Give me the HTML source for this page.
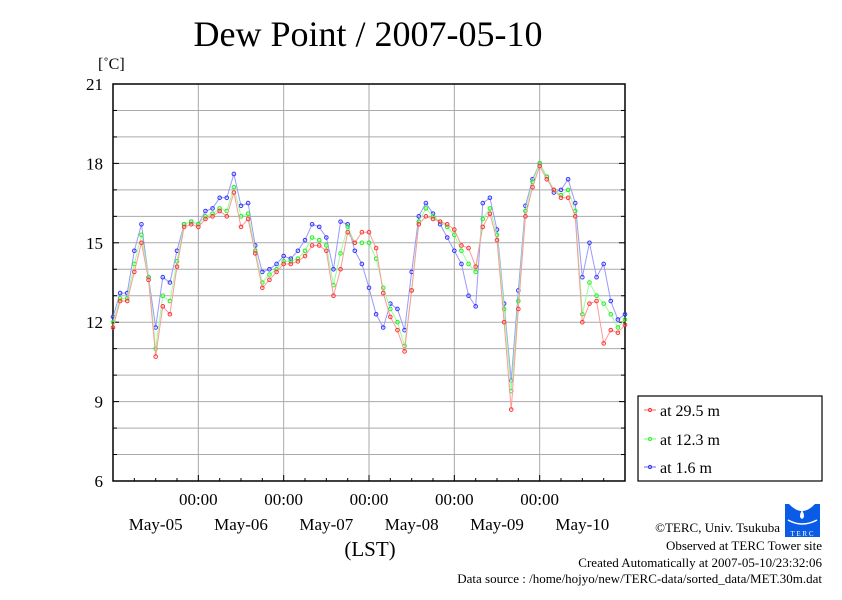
<!DOCTYPE html>
<html><head><meta charset="utf-8"><style>
body{margin:0;background:#fff;width:842px;height:595px;overflow:hidden}
svg text{font-family:"Liberation Serif",serif}
</style></head><body>
<svg id="chart" width="842" height="595" viewBox="0 0 842 595" xmlns="http://www.w3.org/2000/svg">
<text x="368" y="46" font-size="36" text-anchor="middle">Dew Point / 2007-05-10</text>
<text x="98" y="69" font-size="16">[˚C]</text>
<g id="grid"></g>
<g id="axes"></g>
<g id="series"></g>
<text x="370" y="556" font-size="21" text-anchor="middle">(LST)</text>
<g>
<rect x="638" y="396" width="184" height="85" fill="#fff" stroke="#000" stroke-width="1.2"/>
<g><line x1="644" y1="410" x2="656" y2="410" stroke="#f66"/><circle cx="650" cy="410" r="1.6" fill="none" stroke="#f33"/><text x="660" y="416" font-size="16">at 29.5 m</text></g>
<g><line x1="644" y1="439" x2="656" y2="439" stroke="#6f6"/><circle cx="650" cy="439" r="1.6" fill="none" stroke="#3e3"/><text x="660" y="445" font-size="16">at 12.3 m</text></g>
<g><line x1="644" y1="467" x2="656" y2="467" stroke="#66f"/><circle cx="650" cy="467" r="1.6" fill="none" stroke="#33f"/><text x="660" y="473" font-size="16">at 1.6 m</text></g>
</g>
<g>
<rect x="785" y="504" width="35" height="33" fill="#0a5ce6"/>
<path d="M789 504 q13 14 26 0z" fill="#fff"/>
<path d="M802 510 q-4 7 0 9 q4 -2 0 -9z" fill="#fff"/>
<path d="M788 520 q14 8 29 0" stroke="#fff" fill="none" stroke-width="1.5"/>
<text x="802" y="536" font-size="7" fill="#fff" text-anchor="middle" font-family="Liberation Sans,sans-serif">T E R C</text>
</g>
<g font-size="13">
<text x="780" y="532" text-anchor="end">©TERC, Univ. Tsukuba</text>
<text x="822" y="550" text-anchor="end">Observed at TERC Tower site</text>
<text x="822" y="567" text-anchor="end">Created Automatically at 2007-05-10/23:32:06</text>
<text x="822" y="583" text-anchor="end">Data source : /home/hojyo/new/TERC-data/sorted_data/MET.30m.dat</text>
</g>
</svg>
<script>
const hours = [0,2,4,6,8,10,12,14,16,18,20,22,24,26,28,30,32,34,36,38,40,42,44,46,48,50,52,54,56,58,60,62,64,66,68,70,72,74,76,78,80,82,84,86,88,90,92,94,96,98,100,102,104,106,108,110,112,114,116,118,120,122,124,126,128,130,132,134,136,138,140,142,144];
const red29 = [11.8,12.8,12.8,13.9,15.0,13.6,10.7,12.6,12.3,14.1,15.6,15.7,15.6,15.9,16.0,16.2,16.0,16.9,15.6,15.9,14.6,13.3,13.6,13.9,14.2,14.2,14.3,14.5,14.9,14.9,14.7,13.0,14.0,15.4,15.0,15.4,15.4,14.8,13.1,12.2,11.7,10.9,13.2,15.7,16.0,15.9,15.8,15.7,15.5,14.9,14.8,14.1,15.6,16.1,15.1,12.0,8.7,12.5,16.0,17.1,17.9,17.4,17.0,16.7,16.7,16.0,12.0,12.7,12.8,11.2,11.7,11.6,11.9];
const green12 = [12.0,12.9,12.9,14.2,15.3,13.7,11.0,13.0,12.8,14.3,15.7,15.8,15.7,16.0,16.1,16.3,16.2,17.1,16.0,16.1,14.7,13.5,13.8,14.0,14.3,14.3,14.4,14.7,15.2,15.1,14.9,13.4,14.6,15.6,15.0,15.0,15.0,14.4,13.3,12.5,12.0,11.1,13.2,15.8,16.3,16.0,15.8,15.6,15.3,14.7,14.2,13.9,15.9,16.3,15.3,12.5,9.4,12.8,16.2,17.3,18.0,17.5,17.0,16.8,17.0,16.2,12.3,13.5,13.0,12.7,12.3,11.8,12.1];
const blue16 = [12.2,13.1,13.1,14.7,15.7,13.7,11.8,13.7,13.5,14.7,15.7,15.8,15.7,16.2,16.3,16.7,16.7,17.6,16.4,16.5,14.9,13.9,14.0,14.2,14.5,14.4,14.7,15.1,15.7,15.6,15.2,14.0,15.8,15.7,14.7,14.2,13.3,12.3,11.8,12.7,12.5,11.7,13.9,16.0,16.5,16.1,15.7,15.2,14.7,14.2,13.0,12.6,16.5,16.7,15.5,12.7,9.8,13.2,16.4,17.4,18.0,17.5,16.9,17.0,17.4,16.5,13.7,15.0,13.7,14.2,12.8,12.1,12.3];
const yTicks = [6,9,12,15,18,21];
const dayLabels = ["May-05","May-06","May-07","May-08","May-09","May-10"];
const NS="http://www.w3.org/2000/svg";
const X0=113,X1=625,Y0=84,Y1=481,yMin=6,yMax=21,tMax=144;
const xs=t=>X0+(X1-X0)*t/tMax;
const ys=v=>Y1-(Y1-Y0)*(v-yMin)/(yMax-yMin);
function mk(tag,attrs,parent){const e=document.createElementNS(NS,tag);for(const k in attrs)e.setAttribute(k,attrs[k]);parent.appendChild(e);return e;}
const grid=document.getElementById('grid'),axes=document.getElementById('axes'),ser=document.getElementById('series');
for(let v=yMin+1;v<yMax;v++){const l=mk('line',{x1:X0,x2:X1,y1:ys(v),y2:ys(v),stroke:'#aaa','stroke-width':1},grid);

}
for(let d=1;d<6;d++){const l=mk('line',{x1:xs(d*24),x2:xs(d*24),y1:Y0,y2:Y1,stroke:'#aaa','stroke-width':1},grid);

}
const frame=mk('rect',{x:X0,y:Y0,width:X1-X0,height:Y1-Y0,fill:'none',stroke:'#000','stroke-width':1.5},axes);


for(let v=yMin;v<=yMax;v++){const big=(v%3===0);
mk('line',{x1:X0,x2:X0+(big?6:4),y1:ys(v),y2:ys(v),stroke:'#000'},axes);
mk('line',{x1:X1,x2:X1-(big?6:4),y1:ys(v),y2:ys(v),stroke:'#000'},axes);}
yTicks.forEach(v=>{const t=mk('text',{x:103,y:ys(v)+6,'font-size':17,'text-anchor':'end'},axes);t.textContent=v;

});
for(let h=6;h<tMax;h+=6){mk('line',{x1:xs(h),x2:xs(h),y1:Y1,y2:Y1-(h%24===0?6:3),stroke:'#000'},axes);}
for(let d=1;d<6;d++){const t=mk('text',{x:xs(d*24),y:505,'font-size':17,'text-anchor':'middle'},axes);t.textContent='00:00';

}
dayLabels.forEach((s,i)=>{const t=mk('text',{x:xs(i*24+12),y:530,'font-size':17,'text-anchor':'middle'},axes);t.textContent=s;

});
function draw(vals,lineCol,ptCol,name){const g=mk('g',{},ser);


mk('polyline',{points:vals.map((v,i)=>xs(hours[i])+','+ys(v)).join(' '),fill:'none',stroke:lineCol,'stroke-width':1},g);
vals.forEach((v,i)=>{const c=mk('circle',{cx:xs(hours[i]),cy:ys(v),r:1.8,fill:'none',stroke:ptCol,'stroke-width':1},g);

});}
draw(blue16,'#99f','#33f','series-1-6m');
draw(green12,'#9f9','#2e2','series-12-3m');
draw(red29,'#f99','#f33','series-29-5m');
</script>
</body></html>
